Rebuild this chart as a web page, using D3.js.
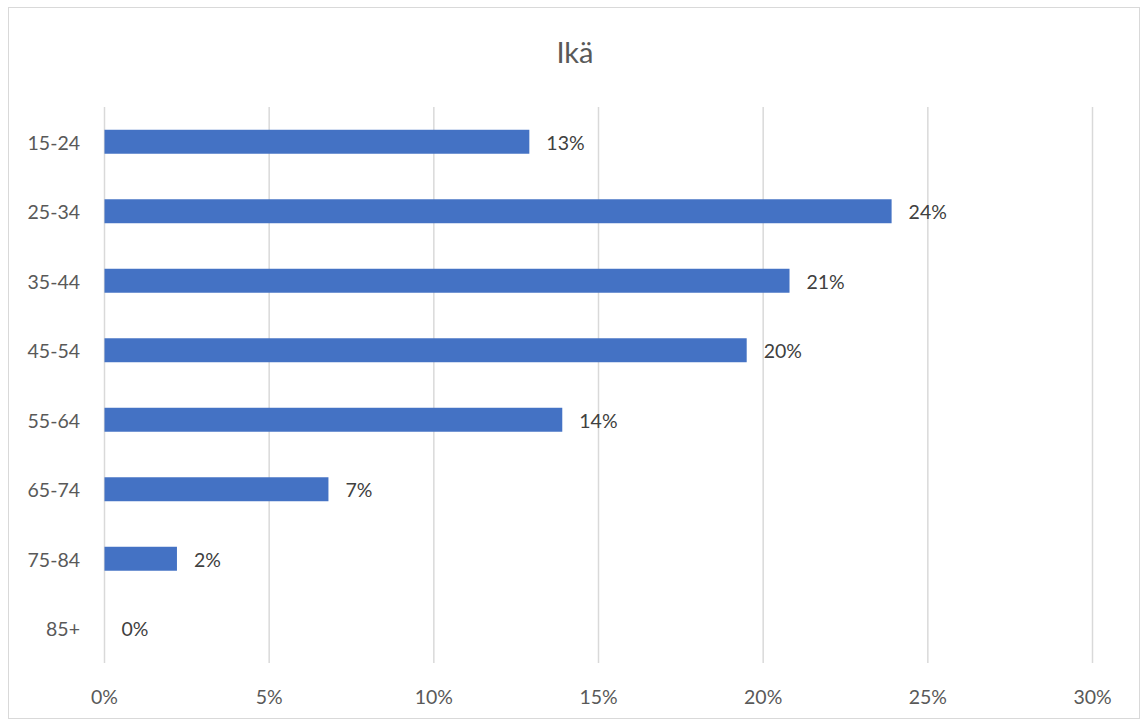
<!DOCTYPE html>
<html><head><meta charset="utf-8">
<script src="https://cdn.jsdelivr.net/npm/d3@7"></script>
<style>body{margin:0;background:#fff;} svg{display:block;}</style>
</head><body>
<svg id="c" width="1143" height="720"></svg>
<script>
const categories = ["15-24","25-34","35-44","45-54","55-64","65-74","75-84","85+"];
const values = [12.9, 23.9, 20.8, 19.5, 13.9, 6.8, 2.2, 0];
const labels = ["13%","24%","21%","20%","14%","7%","2%","0%"];
const xTicks = [0,5,10,15,20,25,30];
const title = "Ikä";

(function(){
const svg = d3.select("#c");
const font = "Lato, 'Open Sans', sans-serif";
svg.append("rect").attr("x",8.5).attr("y",7.5).attr("width",1131).attr("height",711)
  .attr("fill","#fff").attr("stroke","#d9d9d9").attr("stroke-width",1);

const pLeft = 104.5, pRight = 1092.5, pTop = 107, pBottom = 663;
const x = d3.scaleLinear().domain([0,30]).range([pLeft,pRight]);
const y = d3.scaleBand().domain(categories).range([pTop,pBottom]).paddingInner(0.655).paddingOuter(0.3275);

svg.append("text").attr("x",575).attr("y",63).attr("text-anchor","middle")
  .attr("font-family",font).attr("font-size",29).attr("fill","#595959").text(title);

svg.append("g").selectAll("line").data(xTicks).join("line")
  .attr("x1",d=>x(d)).attr("x2",d=>x(d)).attr("y1",pTop).attr("y2",pBottom)
  .attr("stroke","#d9d9d9").attr("stroke-width",1.5);

svg.append("g").selectAll("text").data(xTicks).join("text")
  .attr("x",d=>x(d)).attr("y",704).attr("text-anchor","middle")
  .attr("font-family",font).attr("font-size",19.5).attr("fill","#595959").text(d=>d+"%");

svg.append("g").selectAll("text").data(categories).join("text")
  .attr("x",80).attr("y",d=>y(d)+y.bandwidth()/2+8).attr("text-anchor","end")
  .attr("font-family",font).attr("font-size",19.5).attr("fill","#595959").text(d=>d);

svg.append("g").selectAll("rect").data(values).join("rect")
  .attr("x",x(0)).attr("y",(d,i)=>y(categories[i])).attr("height",y.bandwidth())
  .attr("width",d=>x(d)-x(0)).attr("fill","#4472c4");

svg.append("g").selectAll("text").data(values).join("text")
  .attr("x",d=>x(d)+17).attr("y",(d,i)=>y(categories[i])+y.bandwidth()/2+8)
  .attr("font-family",font).attr("font-size",19.5).attr("fill","#404040").text((d,i)=>labels[i]);
})();
</script>
</body></html>
